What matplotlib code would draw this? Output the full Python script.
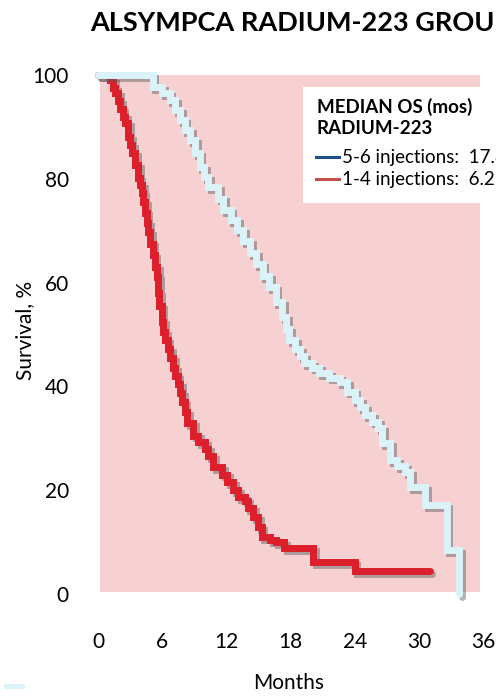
import matplotlib
matplotlib.use("Agg")
import matplotlib.pyplot as plt
import matplotlib.patheffects as pe
from matplotlib.lines import Line2D
from matplotlib.patches import Rectangle

plt.rcParams["font.family"] = ["Lato", "DejaVu Sans"]

# Kaplan-Meier curves (months, survival %)
inj56_months = [0, 5.1, 6.0, 6.7, 7.2, 7.7, 8.1, 8.6, 9.1, 9.5, 9.9, 10.3, 11.2, 11.7,
                12.4, 13.0, 13.6, 14.2, 14.8, 15.4, 16.0, 16.6, 17.2, 17.6, 17.9, 18.4,
                18.9, 19.3, 20.0, 20.7, 21.6, 22.6, 23.3, 24.0, 24.5, 25.0, 25.6, 26.2,
                26.6, 27.3, 28.0, 28.7, 29.2, 30.6, 32.6, 33.8]
inj56_surv = [100, 97.7, 96.5, 95.2, 93.3, 91.3, 89.4, 87.5, 85.0, 82.3, 80.4, 78.4, 76.2,
              74.0, 72.0, 70.1, 68.0, 65.7, 63.5, 61.3, 59.2, 56.2, 53.4, 51.0, 48.9, 47.2,
              45.8, 44.5, 43.6, 42.6, 41.7, 40.8, 39.0, 37.4, 36.0, 34.5, 33.2, 32.0, 29.0,
              25.8, 24.7, 23.5, 20.6, 17.1, 8.5, 0]

inj14_months = [0, 1.1, 1.4, 1.6, 1.85, 2.05, 2.3, 2.5, 2.8, 3.0, 3.2, 3.45, 3.75, 3.9,
                4.1, 4.25, 4.4, 4.55, 4.67, 4.86, 5.1, 5.3, 5.5, 5.6, 5.7, 5.95, 6.1, 6.25,
                6.5, 6.75, 7.0, 7.2, 7.45, 7.7, 7.9, 8.1, 8.3, 8.9, 9.35, 10.0, 10.3, 10.75,
                11.6, 12.06, 12.6, 13.1, 13.7, 14.0, 14.5, 14.95, 15.3, 16.1, 16.6, 17.4,
                20.1, 24.0, 31.0]
inj14_surv = [100, 99.0, 97.5, 96.5, 95.0, 93.5, 92.0, 90.8, 88.0, 86.5, 85.0, 82.7, 80.2,
              78.8, 77.3, 75.5, 73.5, 71.5, 69.7, 67.5, 65.3, 63.0, 61.0, 58.0, 55.5, 52.5,
              50.5, 48.9, 47.2, 45.5, 43.5, 42.0, 40.5, 38.7, 37.0, 35.0, 33.0, 30.5, 29.3,
              28.0, 26.5, 24.5, 23.0, 21.6, 20.0, 18.7, 18.0, 16.6, 14.8, 12.9, 11.0, 10.4,
              10.0, 8.9, 6.2, 4.4, 4.4]

x_ticks = [0, 6, 12, 18, 24, 30, 36]
y_ticks = [0, 20, 40, 60, 80, 100]

title = "ALSYMPCA RADIUM-223 GROUP"
legend_title = ["MEDIAN OS (mos)", "RADIUM-223"]
legend_labels = ["5-6 injections:  17.8 mos", "1-4 injections:  6.2 mos"]

PINK = "#F7D0D2"
LIGHT_BLUE = "#DAF3F8"
RED = "#DC1F2B"

W, H = 496, 700
fig = plt.figure(figsize=(W / 100, H / 100), dpi=100)
fig.patch.set_facecolor("white")


def fx(px):
    return px / W


def fy(py):
    return 1 - py / H


ax = fig.add_axes([fx(98), fy(594), fx(483) - fx(98), fy(75) - fy(594)])
ax.set_facecolor("none")
ax.set_xlim(0, 36)
ax.set_ylim(0, 100)
for spine in ax.spines.values():
    spine.set_visible(False)
ax.add_patch(Rectangle((0.2, 0.4), 35.5, 100, color=PINK, zorder=0, lw=0))

shadow = [pe.SimpleLineShadow(offset=(2, -2), shadow_color="0.35", alpha=0.45),
          pe.Normal()]
ax.plot(inj14_months, inj14_surv, drawstyle="steps-post", color=RED, lw=5,
        solid_capstyle="round", solid_joinstyle="miter", path_effects=shadow,
        clip_on=False, zorder=3)
ax.plot(inj56_months, inj56_surv, drawstyle="steps-post", color=LIGHT_BLUE, lw=5,
        solid_capstyle="round", solid_joinstyle="miter", path_effects=shadow,
        clip_on=False, zorder=4)

ax.set_xticks(x_ticks)
ax.set_yticks(y_ticks)
ax.tick_params(length=0, labelsize=15)
ax.tick_params(axis="x", pad=27)
ax.tick_params(axis="y", pad=21)

fig.text(fx(289), fy(683), "Months", fontsize=15, ha="center", va="center")
fig.text(fx(25), fy(330), "Survival, %", fontsize=15, ha="center", va="center",
         rotation=90)

fig.text(fx(90), fy(23), title, fontsize=19.5, fontweight="bold", va="center", ha="left")

# legend box, partly cut off by the right edge as in the original
fig.patches.append(Rectangle((fx(303), fy(203)), fx(260), fy(87) - fy(203),
                             transform=fig.transFigure, facecolor="white",
                             edgecolor="none", zorder=5))
fig.text(fx(317), fy(107), legend_title[0], fontsize=13.5, fontweight="bold",
         va="center", zorder=6)
fig.text(fx(317), fy(129), legend_title[1], fontsize=13.5, fontweight="bold",
         va="center", zorder=6)
for py, label, color in [(157, legend_labels[0], "#1F4E8C"), (179, legend_labels[1], "#C0504D")]:
    fig.add_artist(Line2D([fx(316), fx(339)], [fy(py), fy(py)], color=color, lw=2.2,
                          transform=fig.transFigure, zorder=6))
    fig.text(fx(342), fy(py + 1), label, fontsize=13.5, va="center", zorder=6)

# stray marker at the lower left
fig.add_artist(Line2D([fx(6), fx(22)], [fy(686), fy(686)], color=LIGHT_BLUE, lw=3.5,
                      transform=fig.transFigure))

fig.savefig("out.png", dpi=100, facecolor="white")
